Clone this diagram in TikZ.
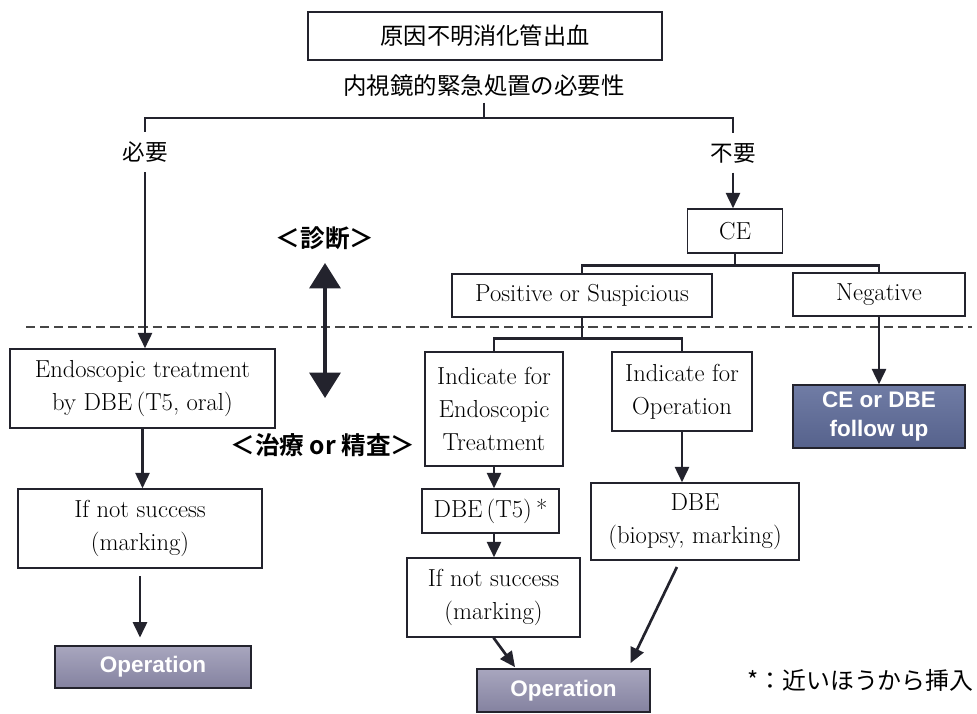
\documentclass[tikz,border=0pt]{standalone}
\usepackage{fontspec}
\newfontfamily\jpfont{Noto Sans CJK JP}[BoldFont={Noto Sans CJK JP Bold}]
\newfontfamily\opfont{Liberation Sans}
\usetikzlibrary{arrows.meta, positioning}
\definecolor{inkgray}{RGB}{35,35,45}
\definecolor{optop}{RGB}{168,166,190}
\definecolor{opbot}{RGB}{132,130,160}
\definecolor{futop}{RGB}{112,124,165}
\definecolor{fubot}{RGB}{86,98,140}
\definecolor{dashgray}{RGB}{70,70,70}

\begin{document}
\begin{tikzpicture}[
  x=0.025cm, y=-0.025cm,
  box/.style={
    draw=inkgray,
    line width=1pt,
    fill=white,
    inner sep=0pt,
    align=center,
    text=black,
    font=\fontsize{17.5}{23.5}\selectfont
  },
  darkbox/.style={
    draw=inkgray,
    line width=1pt,
    inner sep=0pt,
    align=center,
    text=white,
    font=\opfont\bfseries\fontsize{16}{21}\selectfont
  },
  opbox/.style={darkbox, top color=optop, bottom color=opbot},
  fubox/.style={darkbox, top color=futop, bottom color=fubot},
  tag/.style={inner sep=1pt, outer sep=6pt, font=\jpfont\fontsize{16}{20}\selectfont},
  phase/.style={inner sep=1pt, font=\jpfont\bfseries\fontsize{17.5}{21}\selectfont},
  branch/.style={line width=1.9pt, inkgray},
  arrow/.style={-{Triangle[length=11pt, width=10pt]}, line width=1.9pt, inkgray},
  bigarrow/.style={{Triangle[length=18pt, width=22pt]}-{Triangle[length=18pt, width=22pt]}, line width=2.4pt, inkgray}
]
\useasboundingbox (0,0) rectangle (977,714);

% top of the chart
\node[box, minimum width=8.85cm, minimum height=1.2cm, font=\jpfont\fontsize{16.5}{20}\selectfont] (origin) at (485,36) {原因不明消化管出血};
\node[tag, outer sep=3pt, font=\jpfont\fontsize{16.7}{20}\selectfont] (need) at (484,86) {内視鏡的緊急処置の必要性};
\node[tag] (yes) at (145,152) {必要};
\node[tag] (no) at (733,153) {不要};
\coordinate (split) at (484,118);
\draw[branch] (need.south) -- (split);
\draw[branch] (yes.north) |- (split) -| (no.north);

% capsule endoscopy branch
\node[box, minimum width=2.375cm, minimum height=1.1cm] (ce) at (735,231) {CE};
\node[box, minimum width=6.5cm, minimum height=1.075cm] (pos) at (582,295.5) {Positive or Suspicious};
\node[box, minimum width=4.3cm, minimum height=1.075cm] (neg) at (879,294.5) {Negative};
\draw[arrow] (no.south) -- (no.south |- ce.north);
\draw[branch] (ce.south) -- ++(0,12) coordinate (cesplit);
\draw[branch] (pos.north) |- (cesplit) -| (neg.north);

% diagnosis / treatment border
\coordinate (dashL) at (26,327);
\coordinate (dashR) at (972,327);
\draw[dashgray, line width=0.9pt, dash pattern=on 6.5pt off 3.5pt] (dashL) -- (dashR);
\node[phase] (diag) at (325,238) {＜診断＞};
\node[phase] (treat) at (323,445) {＜治療 or 精査＞};
\coordinate (dtop) at (325,263);
\coordinate (dbot) at (325,398);
\draw[bigarrow] (dtop) -- (dbot);

% left column
\node[box, minimum width=6.625cm, minimum height=1.975cm] (endo) at (142.5,388.5) {Endoscopic treatment\\by DBE\,(T5, oral)};
\node[box, minimum width=6.1cm, minimum height=1.975cm] (failL) at (140,528.5) {If not success\\(marking)};
\node[opbox, minimum width=4.9cm, minimum height=1.05cm] (opL) at (153,667) {Operation};
\draw[arrow] (yes.south) -- (yes.south |- endo.north);
\draw[arrow] (endo.south) -- (endo.south |- failL.north);
\draw[arrow, shorten <=5.5pt, shorten >=5.5pt] (failL.south) -- (failL.south |- opL.north);

% middle columns
\node[box, minimum width=3.45cm, minimum height=2.85cm] (indE) at (494,409) {Indicate for\\Endoscopic\\Treatment};
\node[box, minimum width=3.5cm, minimum height=1.975cm] (indO) at (682,391.5) {Indicate for\\Operation};
\node[box, minimum width=3.425cm, minimum height=1.1cm] (dbeT) at (490.5,511) {DBE\,(T5)\,*};
\node[box, minimum width=5.2cm, minimum height=1.925cm] (dbeB) at (695,521.5) {DBE\\(biopsy, marking)};
\node[box, minimum width=4.325cm, minimum height=1.975cm] (failM) at (493.5,597.5) {If not success\\(marking)};
\node[opbox, minimum width=4.325cm, minimum height=1.075cm] (opM) at (563.5,690.5) {Operation};
\draw[branch] (pos.south) -- ++(0,21) coordinate (possplit);
\draw[branch] (indE.north) |- (possplit) -| (indO.north);
\draw[arrow] (indE.south) -- (indE.south |- dbeT.north);
\draw[arrow] (dbeT.south -| indE.south) -- (indE.south |- failM.north);
\draw[arrow] (indO.south) -- (indO.south |- dbeB.north);
\draw[arrow, shorten >=1pt] (failM.south) -- (opM.155);
\draw[arrow, shorten <=5pt, shorten >=4pt] (dbeB.249) -- (opM.19);

% negative result
\node[fubox, minimum width=4.3cm, minimum height=1.575cm] (follow) at (879,416.5) {CE or DBE\\follow up};
\draw[arrow] (neg.south) -- (follow.north);

% footnote
\node[tag, anchor=east, outer sep=0pt, font=\jpfont\fontsize{17}{20}\selectfont] (note) at (975,680) {*：近いほうから挿入};
\end{tikzpicture}
\end{document}
